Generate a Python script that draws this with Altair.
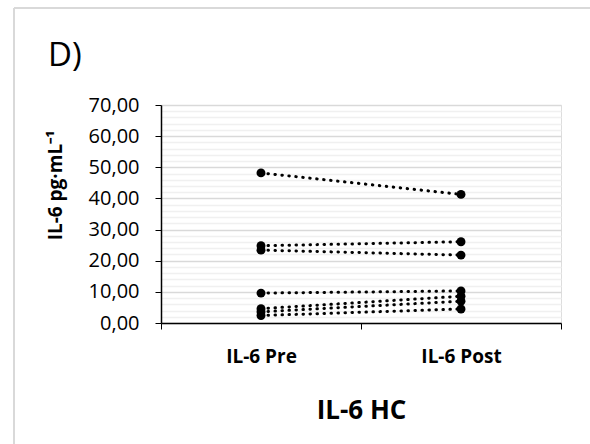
import altair as alt
import pandas as pd

# ---- data ----
categories = ["IL-6 Pre", "IL-6 Post"]
pre_values = [48.2, 24.8, 23.4, 9.6, 4.6, 3.6, 2.4]
post_values = [41.3, 26.1, 21.8, 10.3, 8.6, 7.0, 4.5]
subjects = [f"S{i+1}" for i in range(len(pre_values))]

rows = []
for s, a, b in zip(subjects, pre_values, post_values):
    rows.append({"subject": s, "time": categories[0], "value": a})
    rows.append({"subject": s, "time": categories[1], "value": b})
df = pd.DataFrame(rows)

FONT = "Open Sans"
W, H = 400, 218
PAD_L, PAD_T = 161, 105

major = "datum.value % 10 === 0"

x_enc = alt.X(
    "time:N",
    sort=categories,
    scale=alt.Scale(paddingInner=0, paddingOuter=0),
    axis=alt.Axis(
        title="IL-6 HC",
        labelAngle=0,
        labelFont=FONT,
        labelFontWeight="bold",
        labelFontSize=19,
        labelColor="#000000",
        labelPadding=18,
        tickBand="extent",
        tickSize=6,
        tickColor="#000000",
        domainColor="#000000",
        domainWidth=1.5,
        grid=False,
        titleFont=FONT,
        titleFontSize=26,
        titleFontWeight="bold",
        titleColor="#000000",
        titlePadding=31,
    ),
)

y_enc = alt.Y(
    "value:Q",
    scale=alt.Scale(domain=[0, 70], nice=False),
    axis=alt.Axis(
        title="IL-6 pg·mL⁻¹",
        values=list(range(0, 71, 2)),
        labelExpr=f"{major} ? replace(format(datum.value, '.2f'), '.', ',') : ''",
        labelOverlap=False,
        labelFlush=False,
        labelFont=FONT,
        labelFontSize=20,
        labelColor="#000000",
        labelPadding=16,
        tickSize=6,
        tickColor="#000000",
        tickOpacity={"condition": {"test": major, "value": 1}, "value": 0},
        domainColor="#000000",
        domainWidth=1.5,
        grid=True,
        gridColor={"condition": {"test": major, "value": "#d9d9d9"}, "value": "#f0f0f0"},
        gridWidth=1.5,
        titleFont=FONT,
        titleFontSize=19,
        titleFontWeight="bold",
        titleColor="#000000",
        titleAngle=-90,
        titleAlign="center",
        titleBaseline="middle",
        titleX=-106,
        titleY=80,
    ),
)

base = alt.Chart(df).encode(x=x_enc, y=y_enc)

lines = base.mark_line(
    color="#000000", strokeWidth=3, strokeDash=[0.5, 6.5], strokeCap="round"
).encode(detail="subject:N")

points = base.mark_circle(color="#000000", size=80, opacity=1)

one = pd.DataFrame({"k": [0]})

frame_left = alt.Chart(one).mark_rule(color="#d9d9d9", strokeWidth=2).encode(
    x=alt.value(14 - PAD_L), y=alt.value(8 - PAD_T), y2=alt.value(444 - PAD_T + 10)
)
frame_top = alt.Chart(one).mark_rule(color="#d9d9d9", strokeWidth=2).encode(
    x=alt.value(14 - PAD_L), x2=alt.value(600 - PAD_L), y=alt.value(8 - PAD_T)
)
label_d = alt.Chart(one).mark_text(
    text="D)", font=FONT, fontSize=33, align="left", baseline="alphabetic", color="#000000"
).encode(x=alt.value(48 - PAD_L), y=alt.value(66 - PAD_T))

chart = (
    alt.layer(lines, points, frame_left, frame_top, label_d)
    .properties(
        width=W,
        height=H,
        autosize=alt.AutoSizeParams(type="none"),
        padding={"left": PAD_L, "top": PAD_T, "right": 590 - PAD_L - W, "bottom": 444 - PAD_T - H},
    )
    .configure_view(stroke=None)
    .configure(background="#ffffff")
)

chart.save("out.html", embed_options={"renderer": "svg", "actions": False})
